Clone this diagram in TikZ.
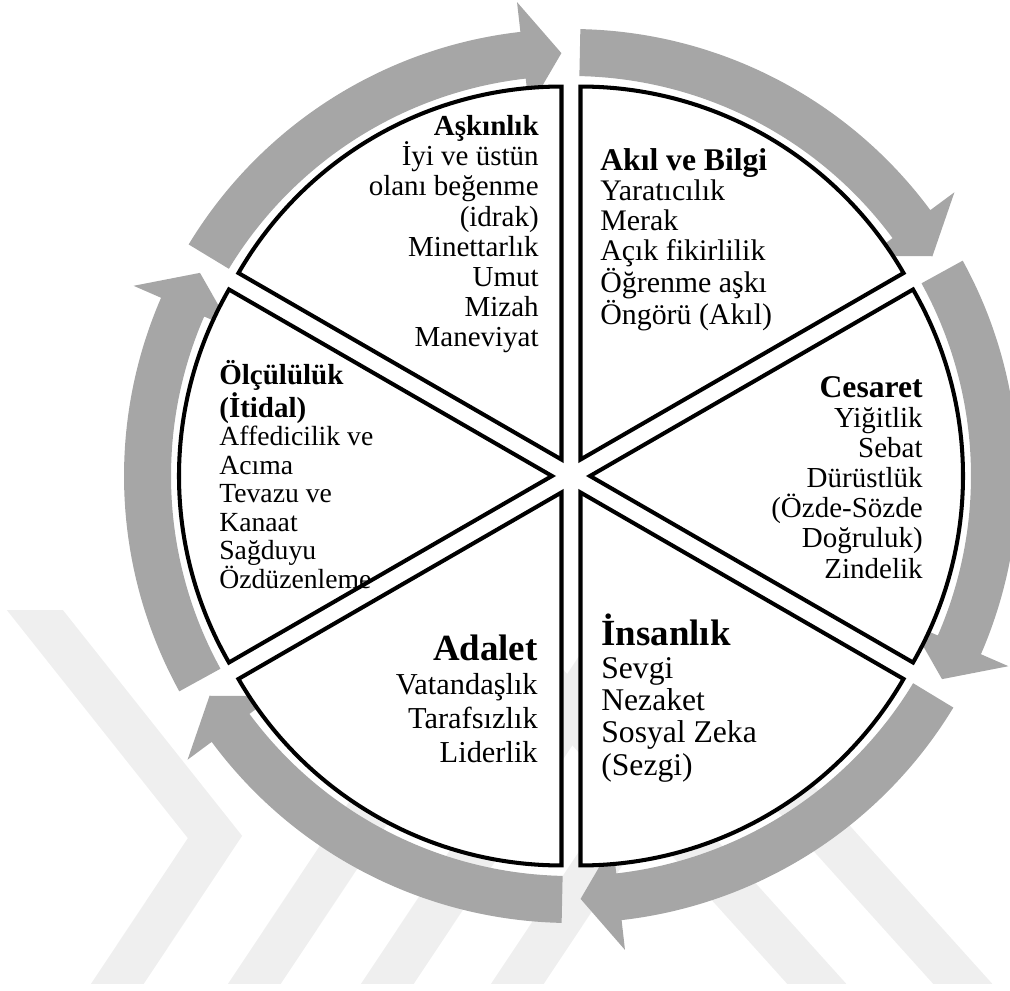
\documentclass[tikz,border=0pt]{standalone}
\usepackage{fontspec}
\setmainfont{Liberation Serif}
\usetikzlibrary{positioning}

\definecolor{ringgray}{HTML}{A6A6A6}
\definecolor{markgray}{HTML}{EFEFEF}

\newcommand\slicehead[2][17]{{\fontsize{#1}{#1}\selectfont\bfseries #2}}

\begin{document}
\begin{tikzpicture}[x=0.02cm, y=0.02cm,
  slice/.style={draw=black, line width=2.3pt, fill=white, line join=miter},
  wmband/.style={draw=markgray, line width=25pt, line join=miter},
  lefttext/.style={inner sep=0pt, anchor=base west, align=left},
  righttext/.style={inner sep=0pt, anchor=base east, align=right}]
  \useasboundingbox (-571,-514) rectangle (439,476);

  % faint watermark behind everything
  \begin{scope}
    \clip (-571,-507) rectangle (439,-134);
    \draw[wmband] (-560,-104) -- (-356,-361) -- (-473,-537);
    \draw[wmband] (-336,-537) -- (-48,-104);
    \draw[wmband] (-203,-537) -- (85,-104);
    \draw[wmband] (-73,-537) -- (215,-104);
    \draw[wmband] (272,-537) -- (-118,-104);
    \draw[wmband] (418,-537) -- (28,-104);
  \end{scope}

  % ring of arrows
  \foreach \b in {150,90,30,-30,-90,-150}{
    \pgfmathsetmacro\ta{\b-1.2}
    \pgfmathsetmacro\hb{\b-53.5}
    \pgfmathsetmacro\tp{\b-58.7}
    \fill[ringgray] (\ta:400) arc[start angle=\ta, end angle=\hb, radius=400]
      -- (\hb:370) -- (\tp:423) -- (\hb:477) -- (\hb:447)
      arc[start angle=\hb, end angle=\ta, radius=447] -- cycle;
  }

  % pie slices
  \foreach \m in {60,0,-60,-120,180,120}{
    \pgfmathsetmacro\sa{\m-30}
    \pgfmathsetmacro\se{\m+30}
    \draw[slice, shift={(\m:19)}] (0,0) -- (\sa:373)
      arc[start angle=\sa, end angle=\se, radius=373] -- cycle;
  }

  % texts (base = last line)
  \node[righttext, font=\fontsize{16.5}{17.2}\selectfont] (askinlik) at (-32,129)
    {\slicehead[16.5]{Aşkınlık}\\İyi ve üstün\\olanı beğenme\\(idrak)\\Minettarlık\\Umut\\Mizah\\Maneviyat};
  \node[lefttext, font=\fontsize{17}{17}\selectfont] (akil) at (29,151)
    {\slicehead[18]{Akıl ve Bilgi}\\Yaratıcılık\\Merak\\Açık fikirlilik\\Öğrenme aşkı\\Öngörü (Akıl)};
  \node[righttext, font=\fontsize{16.5}{17.1}\selectfont] (cesaret) at (352,-102)
    {\slicehead[18]{Cesaret}\\Yiğitlik\\Sebat\\Dürüstlük\\(Özde-Sözde\\Doğruluk)\\Zindelik};
  \node[lefttext, font=\fontsize{15.75}{16.2}\selectfont] (olculuk) at (-352,-112)
    {\slicehead[16.5]{Ölçülülük}\\\slicehead[16.5]{(İtidal)}\\Affedicilik ve\\Acıma\\Tevazu ve\\Kanaat\\Sağduyu\\Özdüzenleme};
  \node[righttext, font=\fontsize{17.3}{19.3}\selectfont] (adalet) at (-33,-286)
    {\slicehead[21]{Adalet}\\Vatandaşlık\\Tarafsızlık\\Liderlik};
  \node[lefttext, font=\fontsize{18}{18.4}\selectfont] (insanlik) at (30,-299)
    {\slicehead[21]{İnsanlık}\\Sevgi\\Nezaket\\Sosyal Zeka\\(Sezgi)};
\end{tikzpicture}
\end{document}
